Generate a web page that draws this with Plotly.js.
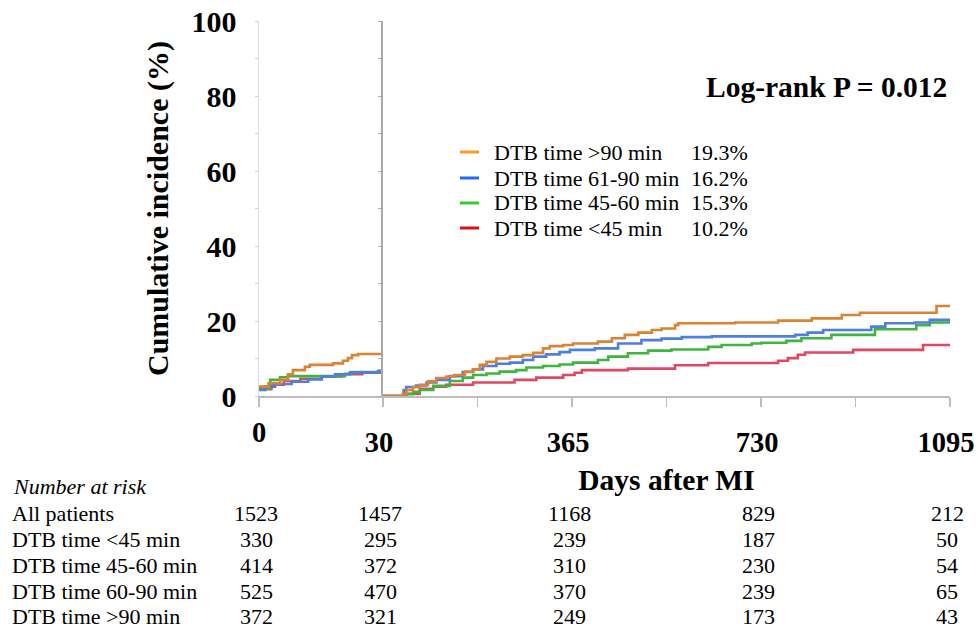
<!DOCTYPE html>
<html>
<head>
<meta charset="utf-8">
<script src="https://cdn.plot.ly/plotly-3.0.1.min.js"></script>
<style>html,body{margin:0;padding:0;background:#fff;}#chart{width:978px;height:630px;}</style>
</head>
<body>
<div id="chart"></div>
<script>
// ---------- data ----------
const groups = ['DTB time >90 min', 'DTB time 61-90 min', 'DTB time 45-60 min', 'DTB time <45 min'];
const legendPct = ['19.3%', '16.2%', '15.3%', '10.2%'];

// first 30 days (left panel), days after MI
const early_gt90_days = [0, 2.3, 5.1, 7.0, 8.2, 11.1, 12.3, 17.9, 20.3, 21.5, 22.5, 24, 30];
const early_gt90_vals = [2.5, 3.4, 4.3, 5.8, 6.9, 7.8, 8.3, 8.7, 9.4, 10.1, 10.9, 11.2, 11.2];
const early_61_90_days = [0, 1.5, 3.9, 7.9, 11.9, 15.2, 18.4, 22, 28.8, 30];
const early_61_90_vals = [1.6, 2.5, 3.2, 3.8, 4.4, 5.2, 5.8, 6.3, 6.7, 6.7];
const early_45_60_days = [0, 2.7, 5.1, 7.0, 20.8, 22.5, 30];
const early_45_60_vals = [2.0, 4.3, 5.0, 5.3, 5.9, 6.4, 6.4];
const early_lt45_days = [0, 3, 6, 10, 15, 20, 25, 30];
const early_lt45_vals = [1.8, 3.0, 4.0, 4.6, 5.2, 5.8, 6.2, 6.2];

// landmark period (right panel)
const late_gt90_days = [0, 38, 45, 58, 71, 87, 103, 122, 138, 158, 174, 187, 200, 219, 245, 270, 290, 309, 322, 348, 367, 415, 442, 467, 493, 519, 538, 564, 570, 680, 763, 828, 886, 921, 1069, 1095];
const late_gt90_vals = [0, 0.5, 1.6, 2.4, 3.0, 3.9, 4.8, 5.2, 5.6, 6.5, 7.1, 8.3, 9.1, 10.0, 10.5, 10.9, 11.5, 12.7, 13.3, 13.6, 14.0, 14.5, 15.4, 16.3, 16.9, 17.6, 18.0, 18.9, 19.4, 19.6, 20.1, 20.7, 21.6, 22.2, 24.0, 24.0];
const late_61_90_days = [0, 40, 45, 64, 84, 103, 129, 154, 174, 193, 219, 245, 270, 290, 315, 341, 361, 409, 454, 499, 538, 577, 635, 796, 820, 850, 943, 970, 1027, 1056, 1095];
const late_61_90_vals = [0, 1.6, 2.4, 2.8, 3.6, 4.3, 5.3, 6.4, 7.1, 8.0, 8.6, 8.9, 9.6, 10.5, 11.1, 11.7, 12.3, 12.7, 14.0, 14.9, 15.3, 15.7, 15.9, 16.3, 16.9, 17.6, 18.5, 19.4, 19.6, 20.3, 20.3];
const late_45_60_days = [0, 45, 58, 71, 97, 129, 154, 174, 200, 225, 257, 277, 309, 341, 367, 415, 435, 473, 512, 557, 628, 654, 712, 731, 779, 808, 866, 950, 1030, 1056, 1095];
const late_45_60_vals = [0, 0.5, 1.1, 1.6, 2.7, 4.0, 4.9, 5.6, 6.0, 6.5, 6.9, 7.6, 8.0, 8.4, 8.9, 9.6, 10.5, 11.4, 12.1, 12.4, 13.1, 13.6, 14.0, 14.2, 14.7, 15.4, 16.3, 17.8, 18.9, 19.6, 19.6];
const late_lt45_days = [0, 45, 71, 97, 122, 174, 254, 296, 348, 370, 384, 473, 564, 628, 763, 782, 801, 815, 908, 1043, 1095];
const late_lt45_vals = [0, 0.6, 1.9, 2.5, 3.0, 3.6, 4.3, 4.9, 5.6, 6.2, 6.9, 7.3, 8.2, 8.8, 9.4, 10.1, 11.0, 11.6, 12.3, 13.6, 13.6];

// x-axis ticks
const leftTickVals = [0, 30];
const leftTickText = ['0', ''];
const rightTickVals = [0, 182.5, 365, 547.5, 730, 912.5, 1095];
const rightTickText = ['30', '', '365', '', '730', '', '1095'];
const yTickVals = [0, 10, 20, 30, 40, 50, 60, 70, 80, 90, 100];
const yTickText = ['0', '', '20', '', '40', '', '60', '', '80', '', '100'];

// number at risk
const riskDays = [0, 30, 365, 730, 1095];
const riskRowLabels = ['All patients', 'DTB time &lt;45 min', 'DTB time 45-60 min', 'DTB time 60-90 min', 'DTB time &gt;90 min'];
const riskAll = [1523, 1457, 1168, 829, 212];
const riskLt45 = [330, 295, 239, 187, 50];
const risk45_60 = [414, 372, 310, 230, 54];
const risk60_90 = [525, 470, 370, 239, 65];
const riskGt90 = [372, 321, 249, 173, 43];

// ---------- build ----------
const curveColors = ['#DC8332', '#4C7EE3', '#3EB53E', '#E04862'];
const legendColors = ['#FF9A1F', '#1F6BFF', '#33CC33', '#DD1111'];
const serif = 'Liberation Serif, Times New Roman, serif';

const earlyDays = [early_gt90_days, early_61_90_days, early_45_60_days, early_lt45_days];
const earlyVals = [early_gt90_vals, early_61_90_vals, early_45_60_vals, early_lt45_vals];
const lateDays = [late_gt90_days, late_61_90_days, late_45_60_days, late_lt45_days];
const lateVals = [late_gt90_vals, late_61_90_vals, late_45_60_vals, late_lt45_vals];

const traces = [];
// draw red first so orange is on top
for (let i = 3; i >= 0; i--) {
  traces.push({x: earlyDays[i], y: earlyVals[i], xaxis: 'x', yaxis: 'y', mode: 'lines',
    line: {shape: 'hv', color: curveColors[i], width: 2.6}, name: groups[i], showlegend: false, hoverinfo: 'skip'});
  traces.push({x: lateDays[i], y: lateVals[i], xaxis: 'x2', yaxis: 'y2', mode: 'lines',
    line: {shape: 'hv', color: curveColors[i], width: 2.6}, name: groups[i], showlegend: false, hoverinfo: 'skip'});
}

const L = 259, R = 950, T = 21, B = 396;
const W = R - L, H = B - T;
const px = v => (v - L) / W;
const py = v => (B - v) / H;
const split = (383 - L) / W;

const regFont = {family: serif, size: 22, color: '#000'};
const annotations = [];
const shapes = [];
const legendRowsY = [152, 178, 203, 228];
groups.forEach((g, i) => {
  annotations.push({xref: 'paper', yref: 'paper', x: px(492), y: py(legendRowsY[i]), xanchor: 'left', yanchor: 'middle',
    text: g.replace('<', '&lt;').replace('>', '&gt;'), showarrow: false, font: regFont});
  annotations.push({xref: 'paper', yref: 'paper', x: px(689), y: py(legendRowsY[i]), xanchor: 'left', yanchor: 'middle',
    text: legendPct[i], showarrow: false, font: regFont});
  shapes.push({type: 'line', xref: 'paper', yref: 'paper', x0: px(460), x1: px(479), y0: py(legendRowsY[i]), y1: py(legendRowsY[i]),
    line: {color: legendColors[i], width: 3}});
});

annotations.push({xref: 'paper', yref: 'paper', x: px(826), y: py(87), xanchor: 'center', yanchor: 'middle',
  text: 'Log-rank P = 0.012', showarrow: false, font: {family: serif, size: 29.5, weight: 'bold', color: '#000'}});

// number at risk table
const riskRowsY = [513, 539.5, 565.5, 591, 616];
const riskData = [riskAll, riskLt45, risk45_60, risk60_90, riskGt90];
annotations.push({xref: 'paper', yref: 'paper', x: px(11), y: py(487), xanchor: 'left', yanchor: 'middle',
  text: '<i>Number at risk</i>', showarrow: false, font: regFont});
riskRowLabels.forEach((lab, r) => {
  annotations.push({xref: 'paper', yref: 'paper', x: px(11), y: py(riskRowsY[r]), xanchor: 'left', yanchor: 'middle',
    text: lab, showarrow: false, font: regFont, borderpad: 0});
  riskDays.forEach((d, c) => {
    annotations.push({xref: d <= 30 ? 'x' : 'x2', yref: 'paper', x: d, y: py(riskRowsY[r]), xanchor: 'center', yanchor: 'middle',
      xshift: -3, text: String(riskData[r][c]), showarrow: false, font: regFont, borderpad: 0});
  });
});

const tickFont = {family: serif, size: 30, weight: 'bold', color: '#000'};
const xTickFont = {family: serif, size: 28.5, weight: 'bold', color: '#000'};

const layout = {
  width: 978, height: 630,
  margin: {l: L, r: 978 - R, t: T, b: 630 - B},
  paper_bgcolor: '#fff', plot_bgcolor: '#fff',
  showlegend: false,
  xaxis: {domain: [0, split], range: [0, 30], showgrid: false, zeroline: false,
    showline: true, linecolor: '#bdbdbd', linewidth: 2,
    ticks: 'outside', ticklen: 9, tickwidth: 1.5, tickcolor: '#bdbdbd',
    tickvals: leftTickVals, ticktext: leftTickText, tickfont: xTickFont, ticklabelstandoff: 1},
  xaxis2: {domain: [split, 1], range: [0, 1095], anchor: 'y2', showgrid: false, zeroline: false,
    showline: true, linecolor: '#bdbdbd', linewidth: 2,
    ticks: 'outside', ticklen: 9, tickwidth: 1.5, tickcolor: '#bdbdbd',
    tickvals: rightTickVals, ticktext: rightTickText, tickfont: xTickFont, ticklabelstandoff: 11,
    ticklabelshift: -4, ticklabeloverflow: 'allow',
    title: {text: 'Days after MI', font: {family: serif, size: 29.5, weight: 'bold', color: '#000'}, standoff: 12}},
  yaxis: {domain: [0, 1], range: [0, 100], anchor: 'x', showgrid: false, zeroline: false,
    showline: true, linecolor: '#dedede', linewidth: 1.5,
    ticks: 'outside', ticklen: 3, tickcolor: '#cfcfcf',
    tickvals: yTickVals, ticktext: yTickText, tickfont: tickFont, ticklabelstandoff: 12,
    title: {text: 'Cumulative incidence (%)', font: {family: serif, size: 30, weight: 'bold', color: '#000'}, standoff: 14}},
  yaxis2: {overlaying: 'y', anchor: 'x2', side: 'left', range: [0, 100], showgrid: false, zeroline: false,
    showline: true, linecolor: '#a8a8a8', linewidth: 2,
    ticks: 'outside', ticklen: 3, tickcolor: '#b0b0b0',
    tickvals: yTickVals, showticklabels: false},
  annotations: annotations,
  shapes: shapes
};

Plotly.newPlot('chart', traces, layout, {staticPlot: true, displayModeBar: false});
</script>
</body>
</html>
